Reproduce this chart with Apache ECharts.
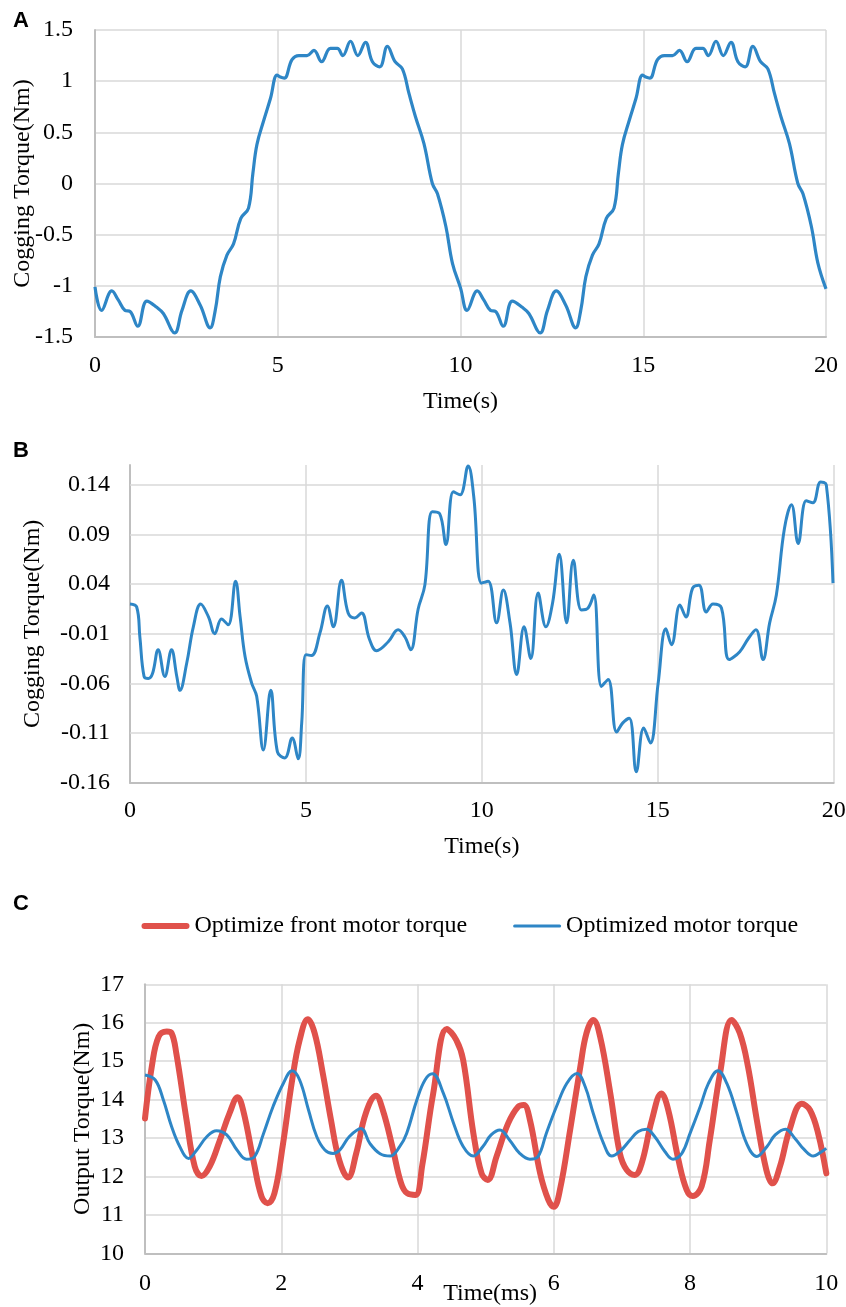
<!DOCTYPE html>
<html>
<head>
<meta charset="utf-8">
<script src="https://cdn.jsdelivr.net/npm/echarts@6/dist/echarts.min.js"></script>
<style>
html,body{margin:0;padding:0;background:#fff;}
#chart{width:846px;height:1307px;}
</style>
</head>
<body>
<div id="chart"></div>
<script>
// ---------- Panel A: cogging torque (before) ----------
const A_TIME = [0,0.18,0.46,0.64,0.82,0.96,1.17,1.42,1.69,1.87,2.18,2.38,2.62,2.88,3.15,3.29,3.43,3.61,3.79,3.99,4.2,4.32,4.43,4.62,4.8,4.98,5.07,5.18,5.39,5.58,5.8,5.99,6.2,6.44,6.63,6.78,6.99,7.19,7.4,7.59,7.79,8.0,8.21,8.41,8.59,8.77,9.0,9.23,9.37,9.6,9.78,
  10.0,10.18,10.46,10.64,10.82,10.96,11.17,11.42,11.69,11.87,12.18,12.38,12.62,12.88,13.15,13.29,13.43,13.61,13.79,13.99,14.2,14.32,14.43,14.62,14.8,14.98,15.07,15.18,15.39,15.58,15.8,15.99,16.2,16.44,16.63,16.78,16.99,17.19,17.4,17.59,17.79,18.0,18.21,18.41,18.59,18.77,19.0,19.23,19.37,19.6,19.78,20.0];
const A_TORQUE = [-1.01,-1.24,-1.05,-1.14,-1.24,-1.25,-1.395,-1.15,-1.21,-1.27,-1.46,-1.24,-1.05,-1.19,-1.41,-1.24,-0.91,-0.70,-0.59,-0.34,-0.24,0.10,0.38,0.62,0.83,1.06,1.04,1.03,1.21,1.25,1.25,1.30,1.19,1.32,1.32,1.25,1.39,1.25,1.38,1.19,1.14,1.34,1.19,1.12,0.88,0.65,0.39,0.0,-0.10,-0.42,-0.78,
  -1.02,-1.24,-1.05,-1.14,-1.24,-1.25,-1.395,-1.15,-1.21,-1.27,-1.46,-1.24,-1.05,-1.19,-1.41,-1.24,-0.91,-0.70,-0.59,-0.34,-0.24,0.10,0.38,0.62,0.83,1.06,1.04,1.03,1.21,1.25,1.25,1.30,1.19,1.32,1.32,1.25,1.39,1.25,1.38,1.19,1.14,1.34,1.19,1.12,0.88,0.65,0.39,0.0,-0.10,-0.42,-0.78,-1.03];

// ---------- Panel B: cogging torque (optimized) ----------
const B_TIME = [0,0.19,0.28,0.40,0.52,0.64,0.80,0.99,1.18,1.33,1.42,1.61,1.80,2.01,2.23,2.41,2.60,2.79,3.0,3.13,3.27,3.46,3.60,3.79,4.0,4.19,4.40,4.61,4.78,4.88,5.0,5.16,5.40,5.61,5.78,6.01,6.20,6.39,6.58,6.80,7.01,7.34,7.62,7.81,7.98,8.19,8.38,8.59,8.80,8.98,9.19,9.38,9.61,9.77,9.99,10.18,10.42,10.61,10.80,10.99,11.2,11.39,11.6,11.82,12.01,12.2,12.41,12.6,12.83,13.02,13.18,13.4,13.59,13.83,14.0,14.19,14.39,14.6,14.79,15.01,15.23,15.39,15.63,15.8,15.99,16.17,16.38,16.57,16.81,17.03,17.33,17.57,17.79,17.99,18.18,18.37,18.6,18.8,18.99,19.22,19.41,19.63,19.79,19.98];
const B_TORQUE = [0.020,0.017,-0.013,-0.053,-0.055,-0.050,-0.026,-0.053,-0.026,-0.053,-0.067,-0.040,-0.003,0.020,0.007,-0.010,0.005,-0.001,0.043,0.007,-0.033,-0.060,-0.073,-0.127,-0.067,-0.129,-0.135,-0.115,-0.136,-0.100,-0.031,-0.032,-0.009,0.018,-0.003,0.044,0.011,0.006,0.011,-0.015,-0.027,-0.018,-0.006,-0.013,-0.026,0.015,0.039,0.113,0.111,0.080,0.133,0.130,0.159,0.128,0.041,0.043,0.001,0.034,0.001,-0.051,-0.003,-0.035,0.031,-0.003,0.021,0.070,0.001,0.064,0.014,0.016,0.029,-0.063,-0.056,-0.109,-0.100,-0.095,-0.149,-0.105,-0.120,-0.060,-0.005,-0.021,0.019,0.007,0.036,0.039,0.012,0.020,0.016,-0.036,-0.028,-0.015,-0.006,-0.036,0.001,0.029,0.096,0.120,0.081,0.124,0.122,0.143,0.140,0.041];
const B_Y_TICKS = [-0.16,-0.11,-0.06,-0.01,0.04,0.09,0.14];
const B_Y_LABELS = ['-0.16','-0.11','-0.06','-0.01','0.04','0.09','0.14'];

// ---------- Panel C: output torque ----------
const C_RED_TIME = [0,0.1,0.2,0.32,0.39,0.46,0.61,0.73,0.83,0.95,1.1,1.24,1.36,1.44,1.59,1.71,1.8,1.9,2.02,2.16,2.27,2.39,2.49,2.61,2.73,2.85,2.98,3.1,3.24,3.39,3.49,3.63,3.76,3.85,3.97,4.07,4.23,4.43,4.57,4.67,4.82,4.94,5.03,5.16,5.33,5.48,5.56,5.65,5.8,5.92,6.0,6.09,6.24,6.39,6.48,6.58,6.68,6.83,6.97,7.07,7.19,7.29,7.44,7.58,7.68,7.83,7.95,8.04,8.17,8.29,8.44,8.61,8.73,8.85,8.98,9.12,9.21,9.32,9.46,9.64,9.76,9.88,10.0];
const C_RED = [13.51,14.86,15.64,15.77,15.73,15.2,13.47,12.26,12.01,12.26,12.95,13.64,14.06,13.73,12.43,11.48,11.30,11.56,12.78,14.51,15.55,16.09,15.73,14.68,13.47,12.43,11.97,12.60,13.64,14.10,13.73,12.78,11.82,11.56,11.52,12.3,14.16,15.84,15.55,15.03,13.12,12.08,11.91,12.52,13.38,13.82,13.86,13.47,12.08,11.39,11.21,11.65,13.21,14.86,15.73,16.07,15.64,14.16,12.60,12.17,12.04,12.34,13.47,14.16,13.73,12.43,11.65,11.49,11.74,12.95,14.68,16.07,15.73,14.86,13.47,12.17,11.82,12.26,13.21,13.89,13.73,13.12,12.08];
const C_BLUE_TIME = [0,0.15,0.27,0.39,0.51,0.64,0.76,0.91,1.05,1.2,1.35,1.49,1.61,1.74,1.88,2.03,2.16,2.27,2.4,2.52,2.64,2.76,2.86,3.0,3.17,3.3,3.45,3.6,3.74,3.84,3.99,4.11,4.22,4.38,4.53,4.67,4.82,4.96,5.08,5.21,5.35,5.5,5.65,5.77,5.89,6.04,6.19,6.34,6.46,6.58,6.73,6.85,6.97,7.12,7.24,7.36,7.48,7.63,7.75,7.88,8.0,8.15,8.27,8.41,8.54,8.69,8.83,8.98,9.13,9.25,9.4,9.54,9.67,9.81,9.91,10.0];
const C_BLUE = [14.64,14.51,13.99,13.30,12.78,12.47,12.69,13.04,13.19,13.08,12.69,12.45,12.52,13.12,13.82,14.42,14.75,14.51,13.73,13.04,12.69,12.60,12.69,13.04,13.25,12.86,12.59,12.53,12.78,13.12,13.99,14.51,14.67,14.16,13.38,12.78,12.53,12.78,13.08,13.21,12.95,12.60,12.45,12.52,13.12,13.82,14.42,14.68,14.34,13.64,12.86,12.53,12.65,12.95,13.17,13.23,13.04,12.65,12.45,12.60,13.12,13.82,14.42,14.75,14.42,13.64,12.86,12.52,12.78,13.08,13.23,12.99,12.71,12.53,12.62,12.73];

const SERIES_NAMES = ['Optimize front motor torque','Optimized motor torque'];
const PANEL_LABELS = ['A','B','C'];

const pairs = (xs, ys) => xs.map((x, i) => [x, ys[i]]);

const BLUE = '#2E86C6';
const RED = '#E0514B';
const GRID_COLOR = '#D9D9D9';
const AXIS_COLOR = '#BFBFBF';
const SERIF = '"Liberation Serif", "Times New Roman", serif';
const FS = 24;

const labelStyle = {color:'#000', fontFamily: SERIF, fontSize: FS};
const nameStyle = {color:'#000', fontFamily: SERIF, fontSize: FS};

function xAxisCfg(gridIndex, min, max, interval, gap, margin, nameStyleExtra) {
  return {
    type:'value', gridIndex, min, max, interval,
    name: gridIndex === 2 ? 'Time(ms)' : 'Time(s)',
    nameLocation:'middle', nameGap: gap, nameMoveOverlap:false,
    nameTextStyle: Object.assign({}, nameStyle, nameStyleExtra || {}),
    axisLine:{show:true, onZero:false, lineStyle:{color:AXIS_COLOR, width:2}},
    axisTick:{show:false},
    axisLabel: Object.assign({margin:margin}, labelStyle),
    splitLine:{show:true, lineStyle:{color:GRID_COLOR, width:1.5}}
  };
}

const chart = echarts.init(document.getElementById('chart'), null, {renderer:'canvas'});

const option = {
  animation:false,
  backgroundColor:'#fff',
  grid:[
    {left:95, top:30, width:731, height:307, outerBoundsMode:'none', containLabel:false},
    {left:130, top:465, width:703.7, height:317.7, outerBoundsMode:'none', containLabel:false},
    {left:145, top:984.3, width:681.3, height:269, outerBoundsMode:'none', containLabel:false}
  ],
  legend:{
    left:136.5, top:909, padding:5,
    itemWidth:48, itemHeight:14, itemGap:46,
    itemStyle:{borderWidth:0},
    textStyle:{color:'#000', fontFamily:SERIF, fontSize:FS},
    data: [
      {name:SERIES_NAMES[0], icon:'path://M0,0M48,14M3,4h42a3,3 0 0 1 0,6h-42a3,3 0 0 1 0,-6z'},
      {name:SERIES_NAMES[1], icon:'path://M0,0M48,14M1.5,5.5h45a1.5,1.5 0 0 1 0,3h-45a1.5,1.5 0 0 1 0,-3z'}
    ]
  },
  graphic: PANEL_LABELS.map((t, i) => ({
    type:'text', left:13, top:[10, 440, 893][i],
    style:{text:t, font:'bold 22px "Liberation Sans", Arial, sans-serif', fill:'#000'}
  })),
  xAxis:[
    xAxisCfg(0, 0, 20, 5, 53, 17),
    xAxisCfg(1, 0, 20, 5, 52, 16),
    xAxisCfg(2, 0, 10, 2, 28, 18, {padding:[0,0,0,9]})
  ],
  yAxis:[
    {
      type:'value', gridIndex:0, min:-1.5, max:1.5, interval:0.5,
      name:'Cogging Torque(Nm)', nameLocation:'middle', nameGap:60, nameMoveOverlap:false, nameTextStyle:nameStyle,
      axisLine:{show:true, onZero:false, lineStyle:{color:AXIS_COLOR, width:2}},
      axisTick:{show:false},
      axisLabel:Object.assign({margin:22}, labelStyle),
      splitLine:{show:true, lineStyle:{color:GRID_COLOR, width:1.5}}
    },
    {
      type:'value', gridIndex:1, min:-0.16, max:0.16, interval:0.01,
      name:'Cogging Torque(Nm)', nameLocation:'middle', nameGap:85, nameMoveOverlap:false, nameTextStyle:nameStyle,
      axisLine:{show:true, onZero:false, lineStyle:{color:AXIS_COLOR, width:2}},
      axisTick:{show:false},
      axisLabel:Object.assign({margin:20, formatter: function (v) {
        for (let i = 0; i < B_Y_TICKS.length; i++) {
          if (Math.abs(v - B_Y_TICKS[i]) < 1e-6) return B_Y_LABELS[i];
        }
        return '';
      }}, labelStyle),
      splitLine:{show:false}
    },
    {
      type:'value', gridIndex:2, min:10, max:17, interval:1,
      name:'Output Torque(Nm)', nameLocation:'middle', nameGap:50, nameMoveOverlap:false, nameTextStyle:nameStyle,
      axisLine:{show:true, onZero:false, lineStyle:{color:AXIS_COLOR, width:2}},
      axisTick:{show:false},
      axisLabel:Object.assign({margin:21}, labelStyle),
      splitLine:{show:true, lineStyle:{color:GRID_COLOR, width:1.5}}
    }
  ],
  series:[
    {
      type:'line', xAxisIndex:0, yAxisIndex:0, data:pairs(A_TIME, A_TORQUE),
      smooth:0.4, showSymbol:false, symbol:'none',
      lineStyle:{color:BLUE, width:3.2}, z:3
    },
    {
      type:'line', xAxisIndex:1, yAxisIndex:1, data:pairs(B_TIME, B_TORQUE),
      smooth:0.4, showSymbol:false, symbol:'none',
      lineStyle:{color:BLUE, width:3}, z:3,
      markLine:{
        silent:true, symbol:['none','none'], z:1,
        label:{show:false},
        lineStyle:{color:GRID_COLOR, width:1.5, type:'solid'},
        emphasis:{disabled:true},
        data: B_Y_TICKS.slice(1).map(v => ({yAxis:v}))
      }
    },
    {
      name:SERIES_NAMES[0],
      type:'line', xAxisIndex:2, yAxisIndex:2, data:pairs(C_RED_TIME, C_RED),
      smooth:0.4, showSymbol:false, symbol:'none',
      itemStyle:{color:RED},
      lineStyle:{color:RED, width:6, cap:'round'}, z:3
    },
    {
      name:SERIES_NAMES[1],
      type:'line', xAxisIndex:2, yAxisIndex:2, data:pairs(C_BLUE_TIME, C_BLUE),
      smooth:0.4, showSymbol:false, symbol:'none',
      itemStyle:{color:BLUE},
      lineStyle:{color:BLUE, width:3}, z:4
    }
  ]
};
chart.setOption(option);
</script>
</body>
</html>
